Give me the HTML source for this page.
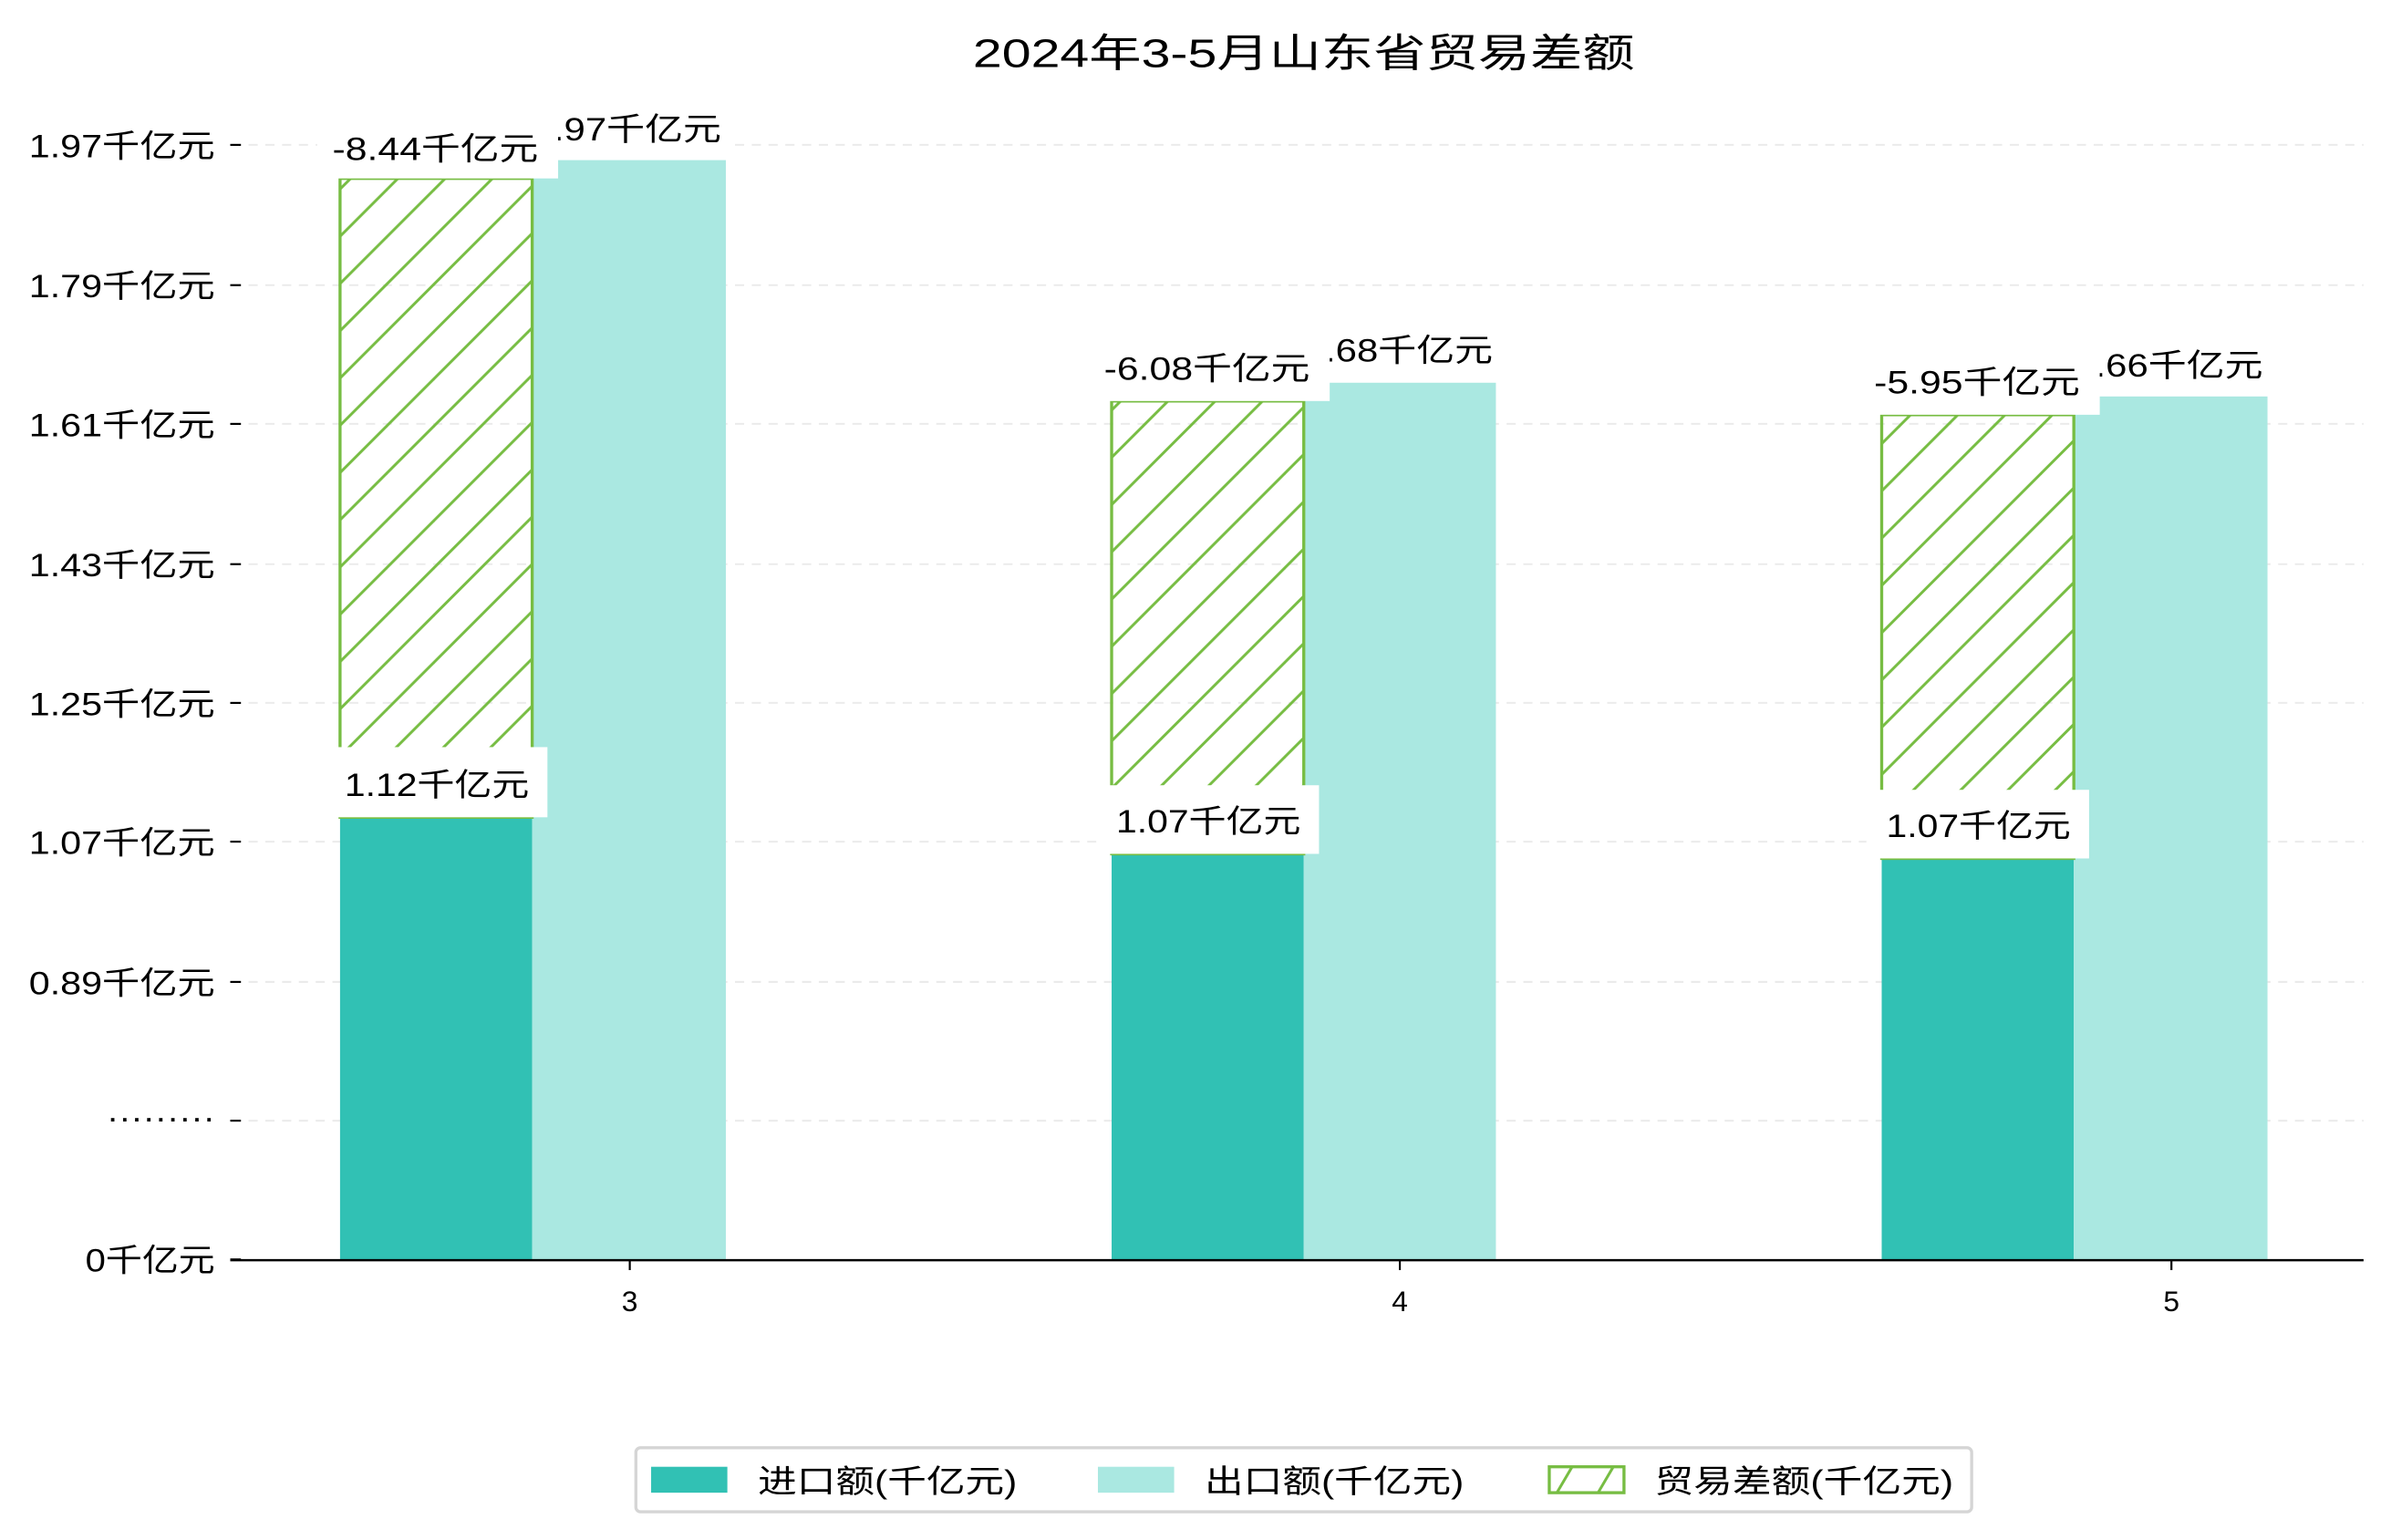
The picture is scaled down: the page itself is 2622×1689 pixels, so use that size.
<!DOCTYPE html>
<html><head><meta charset="utf-8"><style>
html,body{margin:0;padding:0;background:#fff;}
svg{display:block;}
text{font-family:"Liberation Sans","Noto Sans CJK SC",sans-serif;fill:#000;}
</style></head><body>
<svg width="2622" height="1689" viewBox="0 0 1568 1010" xmlns="http://www.w3.org/2000/svg">
<defs>
<pattern id="h" patternUnits="userSpaceOnUse" width="31" height="31" x="223" y="0">
<line x1="-2" y1="33" x2="33" y2="-2" stroke="#77bd43" stroke-width="1.8"/>
<line x1="-33" y1="33" x2="2" y2="-2" stroke="#77bd43" stroke-width="1.8"/>
<line x1="29" y1="33" x2="64" y2="-2" stroke="#77bd43" stroke-width="1.8"/>
</pattern>
</defs>
<rect width="1568" height="1010" fill="#fff"/>
<text x="638" y="44" font-size="26" textLength="434" lengthAdjust="spacingAndGlyphs">2024年3-5月山东省贸易差额</text>
<g stroke="#ebebeb" stroke-width="1.2" stroke-dasharray="6,5">
<line x1="152" y1="95" x2="1550" y2="95"/><line x1="152" y1="187" x2="1550" y2="187"/>
<line x1="152" y1="278" x2="1550" y2="278"/><line x1="152" y1="370" x2="1550" y2="370"/>
<line x1="152" y1="461" x2="1550" y2="461"/><line x1="152" y1="552" x2="1550" y2="552"/>
<line x1="152" y1="644" x2="1550" y2="644"/><line x1="152" y1="735" x2="1550" y2="735"/>
</g>
<g stroke="#000" stroke-width="1.3">
<line x1="151" y1="95" x2="158" y2="95"/><line x1="151" y1="187" x2="158" y2="187"/>
<line x1="151" y1="278" x2="158" y2="278"/><line x1="151" y1="370" x2="158" y2="370"/>
<line x1="151" y1="461" x2="158" y2="461"/><line x1="151" y1="552" x2="158" y2="552"/>
<line x1="151" y1="644" x2="158" y2="644"/><line x1="151" y1="735" x2="158" y2="735"/>
<line x1="151" y1="826" x2="158" y2="826"/>
</g>
<g font-size="21">
<text x="19" y="103" textLength="122" lengthAdjust="spacingAndGlyphs">1.97千亿元</text>
<text x="19" y="195" textLength="122" lengthAdjust="spacingAndGlyphs">1.79千亿元</text>
<text x="19" y="286" textLength="122" lengthAdjust="spacingAndGlyphs">1.61千亿元</text>
<text x="19" y="378" textLength="122" lengthAdjust="spacingAndGlyphs">1.43千亿元</text>
<text x="19" y="469" textLength="122" lengthAdjust="spacingAndGlyphs">1.25千亿元</text>
<text x="19" y="560" textLength="122" lengthAdjust="spacingAndGlyphs">1.07千亿元</text>
<text x="19" y="652" textLength="122" lengthAdjust="spacingAndGlyphs">0.89千亿元</text>
<text x="70" y="740" textLength="71" lengthAdjust="spacingAndGlyphs">·········</text>
<text x="56" y="834" textLength="85" lengthAdjust="spacingAndGlyphs">0千亿元</text>
</g>
<rect x="223" y="536" width="126" height="290" fill="#31c1b4"/>
<rect x="349" y="105" width="127" height="721" fill="#aae8e1"/>
<rect x="223" y="117" width="126" height="419" fill="url(#h)" stroke="#77bd43" stroke-width="2"/>
<rect x="729" y="560" width="126" height="266" fill="#31c1b4"/>
<rect x="855" y="251" width="126" height="575" fill="#aae8e1"/>
<rect x="729" y="263" width="126" height="297" fill="url(#h)" stroke="#77bd43" stroke-width="2"/>
<rect x="1234" y="563" width="126" height="263" fill="#31c1b4"/>
<rect x="1360" y="260" width="127" height="566" fill="#aae8e1"/>
<rect x="1234" y="272" width="126" height="291" fill="url(#h)" stroke="#77bd43" stroke-width="2"/>
<g font-size="21">
<rect x="346" y="68" width="132" height="36" fill="#fff"/>
<text x="349" y="92" textLength="124" lengthAdjust="spacingAndGlyphs">1.97千亿元</text>
<rect x="852" y="213" width="132" height="36" fill="#fff"/>
<text x="855" y="237" textLength="124" lengthAdjust="spacingAndGlyphs">1.68千亿元</text>
<rect x="1357" y="223" width="132" height="36" fill="#fff"/>
<text x="1360" y="247" textLength="124" lengthAdjust="spacingAndGlyphs">1.66千亿元</text>
<rect x="208" y="72" width="158" height="45" fill="#fff"/>
<text x="218" y="105" textLength="135" lengthAdjust="spacingAndGlyphs">-8.44千亿元</text>
<rect x="714" y="218" width="158" height="45" fill="#fff"/>
<text x="724" y="249" textLength="135" lengthAdjust="spacingAndGlyphs">-6.08千亿元</text>
<rect x="1219" y="227" width="158" height="45" fill="#fff"/>
<text x="1229" y="258" textLength="135" lengthAdjust="spacingAndGlyphs">-5.95千亿元</text>
<rect x="213" y="490" width="146" height="46" fill="#fff"/>
<text x="226" y="522" textLength="121" lengthAdjust="spacingAndGlyphs">1.12千亿元</text>
<rect x="719" y="515" width="146" height="45" fill="#fff"/>
<text x="732" y="546" textLength="121" lengthAdjust="spacingAndGlyphs">1.07千亿元</text>
<rect x="1224" y="518" width="146" height="45" fill="#fff"/>
<text x="1237" y="549" textLength="121" lengthAdjust="spacingAndGlyphs">1.07千亿元</text>
</g>
<line x1="151" y1="826.5" x2="1550" y2="826.5" stroke="#000" stroke-width="1.5"/>
<g stroke="#000" stroke-width="1.3">
<line x1="413" y1="826" x2="413" y2="833"/><line x1="918" y1="826" x2="918" y2="833"/><line x1="1424" y1="826" x2="1424" y2="833"/>
</g>
<g font-size="19" text-anchor="middle">
<text x="413" y="860">3</text><text x="918" y="860">4</text><text x="1424" y="860">5</text>
</g>
<rect x="417" y="949.5" width="876" height="42" rx="3" fill="#fff" stroke="#d5d5d5" stroke-width="2"/>
<rect x="427" y="962" width="50" height="17" fill="#31c1b4"/>
<rect x="720" y="962" width="50" height="17" fill="#aae8e1"/>
<rect x="1016" y="962" width="49" height="17" fill="#fff" stroke="#77bd43" stroke-width="2"/>
<line x1="1021" y1="979" x2="1031" y2="962" stroke="#77bd43" stroke-width="1.8"/>
<line x1="1048" y1="979" x2="1058" y2="962" stroke="#77bd43" stroke-width="1.8"/>
<g font-size="21">
<text x="497" y="979" textLength="170" lengthAdjust="spacingAndGlyphs">进口额(千亿元)</text>
<text x="790" y="979" textLength="170" lengthAdjust="spacingAndGlyphs">出口额(千亿元)</text>
<text x="1085" y="979" textLength="196" lengthAdjust="spacingAndGlyphs">贸易差额(千亿元)</text>
</g>
</svg>
</body></html>
